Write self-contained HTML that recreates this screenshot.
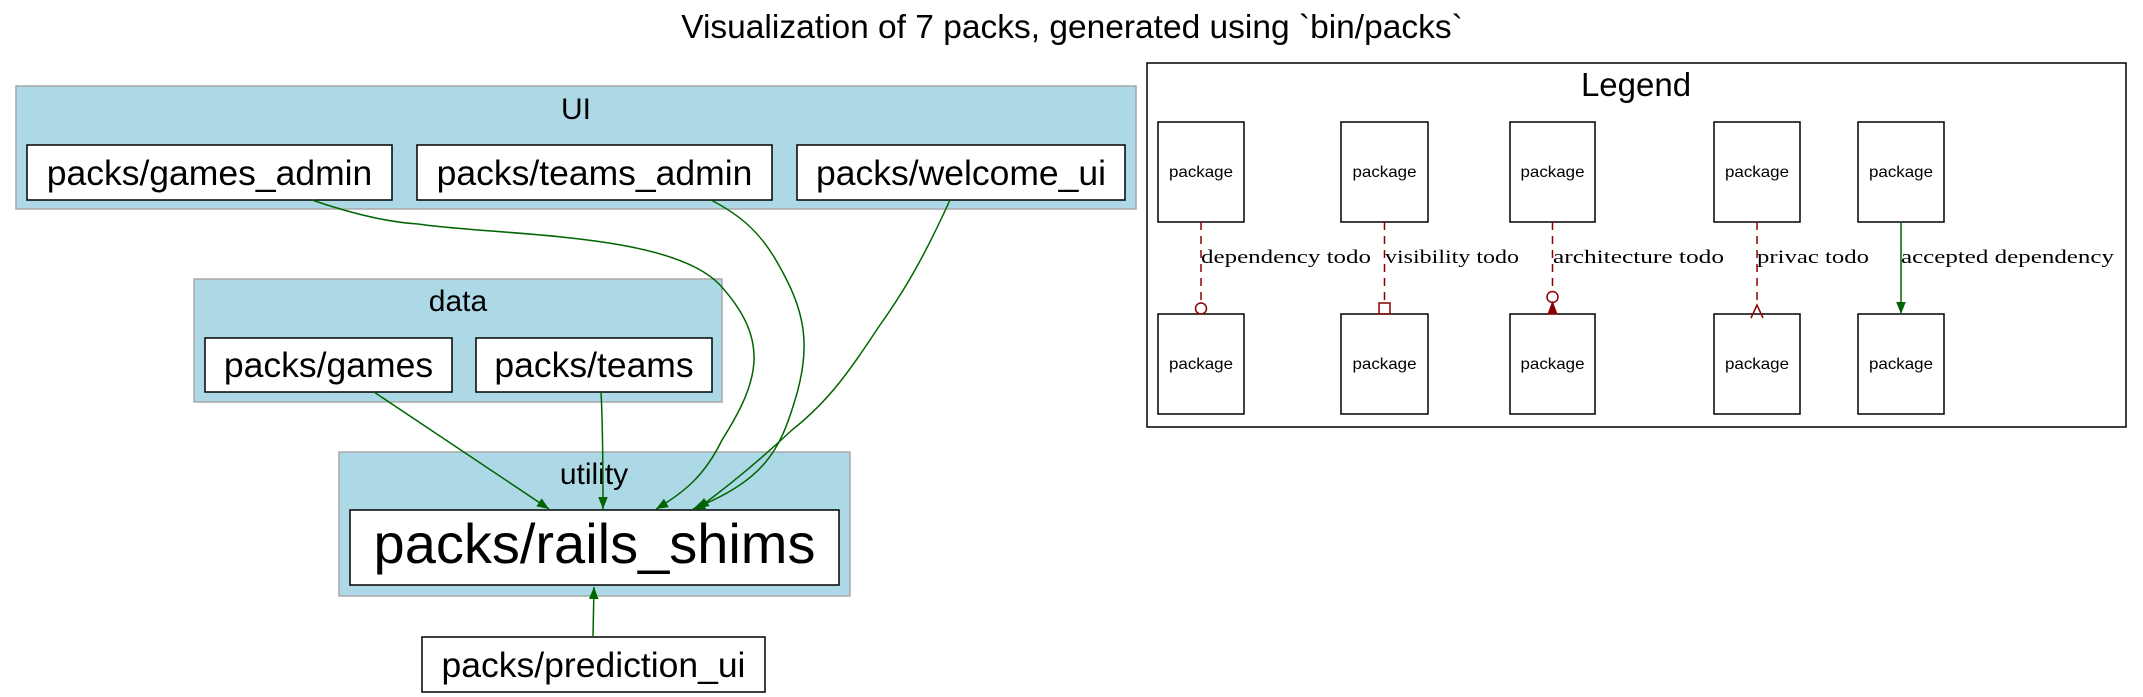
<!DOCTYPE html>
<html><head><meta charset="utf-8"><style>
html,body{margin:0;padding:0;background:#fff;}
svg{display:block;}
.s{font-family:"Liberation Sans",sans-serif;}
.r{font-family:"Liberation Serif",serif;}
</style></head><body>
<svg width="2143" height="697" viewBox="0 0 2143 697" xmlns="http://www.w3.org/2000/svg">
<defs>
<marker id="ga2" viewBox="0 0 10 10" refX="10" refY="5" markerWidth="16" markerHeight="12" markerUnits="userSpaceOnUse" orient="auto"><path d="M0,1 L10,5 L0,9 z" fill="#006400"/></marker>
</defs>
<text class="s" x="1072" y="38" font-size="33.5" text-anchor="middle">Visualization of 7 packs, generated using `bin/packs`</text>

<rect x="16" y="86" width="1120" height="123" fill="#add8e6" stroke="#a9a9a9" stroke-width="1.5"/>
<text class="s" x="576" y="119" font-size="30" text-anchor="middle">UI</text>
<rect x="27" y="145" width="365" height="55" fill="#fff" stroke="#000" stroke-width="1.5"/>
<text class="s" x="209.5" y="185" font-size="35.5" text-anchor="middle">packs/games_admin</text>
<rect x="417" y="145" width="355" height="55" fill="#fff" stroke="#000" stroke-width="1.5"/>
<text class="s" x="594.5" y="185" font-size="35.5" text-anchor="middle">packs/teams_admin</text>
<rect x="797" y="145" width="328" height="55" fill="#fff" stroke="#000" stroke-width="1.5"/>
<text class="s" x="961" y="185" font-size="35.5" text-anchor="middle">packs/welcome_ui</text>

<rect x="194" y="279" width="528" height="123" fill="#add8e6" stroke="#a9a9a9" stroke-width="1.5"/>
<text class="s" x="458" y="311" font-size="30" text-anchor="middle">data</text>
<rect x="205" y="338" width="247" height="54" fill="#fff" stroke="#000" stroke-width="1.5"/>
<text class="s" x="328.5" y="377" font-size="35.5" text-anchor="middle">packs/games</text>
<rect x="476" y="338" width="236" height="54" fill="#fff" stroke="#000" stroke-width="1.5"/>
<text class="s" x="594" y="377" font-size="35.5" text-anchor="middle">packs/teams</text>

<rect x="339" y="452" width="511" height="144" fill="#add8e6" stroke="#a9a9a9" stroke-width="1.5"/>
<text class="s" x="594" y="484" font-size="30" text-anchor="middle">utility</text>
<rect x="350" y="510" width="489" height="75" fill="#fff" stroke="#000" stroke-width="1.5"/>
<text class="s" x="594.5" y="563" font-size="56" text-anchor="middle">packs/rails_shims</text>

<rect x="422" y="637" width="343" height="55" fill="#fff" stroke="#000" stroke-width="1.5"/>
<text class="s" x="593.5" y="677" font-size="35.5" text-anchor="middle">packs/prediction_ui</text>

<g fill="none" stroke="#006400" stroke-width="1.5">
<path d="M312,200 C350,213 385,222 418,224 C500,236 670,232 720,285 C770,340 760,380 722,440 C705,475 685,492 656,509" marker-end="url(#ga2)"/>
<path d="M711,200 C740,215 760,232 777,262 C805,310 812,345 795,400 C780,450 765,480 693,509" marker-end="url(#ga2)"/>
<path d="M950,200 C925,255 905,290 880,325 C850,370 830,400 792,430 C760,460 730,485 697,509" marker-end="url(#ga2)"/>
<path d="M374,392 L549,509" marker-end="url(#ga2)"/>
<path d="M601,392 C603,430 603,470 603,509" marker-end="url(#ga2)"/>
<path d="M593,636 L594,587" marker-end="url(#ga2)"/>
</g>

<rect x="1147" y="63" width="979" height="364" fill="#fff" stroke="#000" stroke-width="1.5"/>
<text class="s" x="1636" y="96" font-size="33" text-anchor="middle">Legend</text>
<g fill="#fff" stroke="#000" stroke-width="1.5">
<rect x="1158" y="122" width="86" height="100"/><rect x="1341" y="122" width="87" height="100"/><rect x="1510" y="122" width="85" height="100"/><rect x="1714" y="122" width="86" height="100"/><rect x="1858" y="122" width="86" height="100"/>
<rect x="1158" y="314" width="86" height="100"/><rect x="1341" y="314" width="87" height="100"/><rect x="1510" y="314" width="85" height="100"/><rect x="1714" y="314" width="86" height="100"/><rect x="1858" y="314" width="86" height="100"/>
</g>
<g class="s" font-size="16" text-anchor="middle">
<text x="1201" y="177" textLength="64" lengthAdjust="spacingAndGlyphs">package</text><text x="1384.5" y="177" textLength="64" lengthAdjust="spacingAndGlyphs">package</text><text x="1552.5" y="177" textLength="64" lengthAdjust="spacingAndGlyphs">package</text><text x="1757" y="177" textLength="64" lengthAdjust="spacingAndGlyphs">package</text><text x="1901" y="177" textLength="64" lengthAdjust="spacingAndGlyphs">package</text>
<text x="1201" y="369" textLength="64" lengthAdjust="spacingAndGlyphs">package</text><text x="1384.5" y="369" textLength="64" lengthAdjust="spacingAndGlyphs">package</text><text x="1552.5" y="369" textLength="64" lengthAdjust="spacingAndGlyphs">package</text><text x="1757" y="369" textLength="64" lengthAdjust="spacingAndGlyphs">package</text><text x="1901" y="369" textLength="64" lengthAdjust="spacingAndGlyphs">package</text>
</g>
<g stroke="#8b0000" stroke-width="1.5" fill="none" stroke-dasharray="8,6">
<line x1="1201" y1="222" x2="1201" y2="303"/>
<line x1="1384.5" y1="222" x2="1384.5" y2="303"/>
<line x1="1552.5" y1="222" x2="1552.5" y2="292"/>
<line x1="1757" y1="222" x2="1757" y2="305"/>
</g>
<g stroke="#8b0000" stroke-width="1.5" fill="none">
<circle cx="1201" cy="308.5" r="5.5"/>
<rect x="1379" y="303" width="11" height="11"/>
<circle cx="1552.5" cy="297" r="5.5"/>
<path d="M1751,318 L1757,305 L1763,318"/>
</g>
<path d="M1548,314 L1552.5,302 L1557,314 z" fill="#8b0000" stroke="#8b0000"/>
<line x1="1901" y1="222" x2="1901" y2="314" stroke="#006400" stroke-width="1.5" marker-end="url(#ga2)"/>
<g class="r" font-size="19">
<text x="1201" y="263" textLength="170" lengthAdjust="spacingAndGlyphs">dependency todo</text>
<text x="1385" y="263" textLength="134" lengthAdjust="spacingAndGlyphs">visibility todo</text>
<text x="1553" y="263" textLength="171" lengthAdjust="spacingAndGlyphs">architecture todo</text>
<text x="1757" y="263" textLength="112" lengthAdjust="spacingAndGlyphs">privac todo</text>
<text x="1901" y="263" textLength="213" lengthAdjust="spacingAndGlyphs">accepted dependency</text>
</g>
</svg>
</body></html>
